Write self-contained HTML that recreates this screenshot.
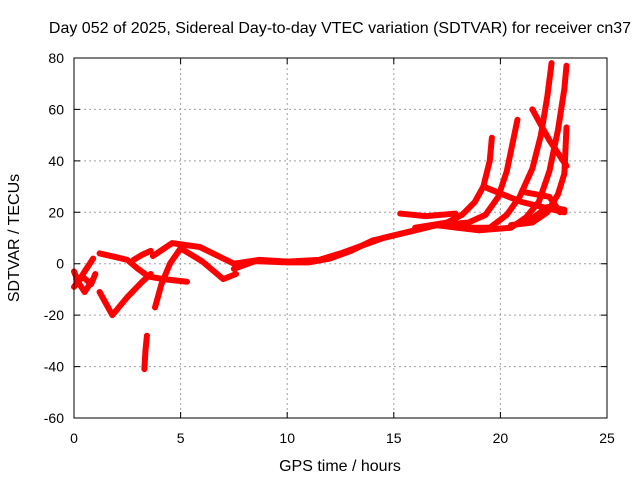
<!DOCTYPE html>
<html><head><meta charset="utf-8"><style>
body{margin:0;background:#fff}
svg{display:block;font-family:"Liberation Sans",sans-serif}
</style></head><body>
<svg id="chart" width="640" height="480" viewBox="0 0 640 480">
<rect width="640" height="480" fill="#fff"/>
<g id="grid"></g>
<g id="series"></g>
<rect x="74" y="58" width="533" height="360" fill="none" stroke="#000" stroke-width="1"/>
<g id="ticks"></g>
<text x="340" y="33" text-anchor="middle" font-size="16">Day 052 of 2025, Sidereal Day-to-day VTEC variation (SDTVAR) for receiver cn37</text>
<text x="340" y="471" text-anchor="middle" font-size="16">GPS time / hours</text>
<text transform="translate(19,238) rotate(-90)" text-anchor="middle" font-size="16">SDTVAR / TECUs</text>
</svg>
<script>
const xTicks=[0,5,10,15,20,25];
const yTicks=[-60,-40,-20,0,20,40,60,80];
// tracks: [hour, value] pairs
const track1=[[0,-3],[0.2,-7],[0.5,-3],[0.9,2]];
const track2=[[0,-9],[0.4,-5],[0.8,-8],[1.0,-4]];
const track3=[[0.1,-6],[0.5,-11],[0.9,-6]];
const track4=[[1.2,4],[2.0,2.5],[2.5,1.5],[3.0,-2],[3.5,-5],[4.2,-6],[5.3,-7]];
const track5=[[1.2,-11],[1.8,-20],[2.5,-13],[3.2,-7],[3.6,-4]];
const track6=[[2.8,1.5],[3.2,3.5],[3.6,5]];
const track7=[[3.8,-17],[4.1,-8],[4.5,0],[5.0,6],[6.0,1],[7.0,-6],[7.6,-4]];
const track8=[[3.7,3],[4.6,8],[5.9,6.5],[7.5,0],[8.7,1.5],[10,0.8],[11.5,1.5],[12.5,4],[13.5,7],[14.5,10],[15.5,12],[16.5,14],[17.5,16],[18.5,15]];
const track9=[[7.5,-2],[8.5,1],[10,0.5],[11,0.5],[12,2],[13,5],[14,9],[15,11],[16,13],[17,15],[18,14],[19,13],[19.6,14]];
const track10=[[3.42,-28],[3.35,-34],[3.3,-41]];
const trackA=[[16,14],[17.5,16],[18.2,19],[18.8,24],[19.2,30],[19.5,40],[19.6,49]];
const trackB=[[17,15],[18.5,16],[19.3,19],[19.9,26],[20.3,36],[20.6,48],[20.8,56]];
const trackC=[[18,14],[19.5,14],[20.3,19],[20.9,26],[21.5,37],[21.9,50],[22.2,65],[22.4,78]];
const trackD=[[19,13],[20.5,14],[21.2,18],[21.8,24],[22.3,36],[22.7,52],[23,68],[23.1,77]];
const trackE=[[20.5,15],[21.5,16],[22.2,20],[22.7,27],[23.0,35],[23.1,53]];
const trackF=[[21.5,60],[22.3,48],[23.1,38]];
const trackG=[[19.2,30],[21,24],[23,20]];
const trackH=[[15.3,19.5],[16.5,18.5],[17.9,19.5]];
const trackI=[[21,28],[22.3,26],[22.8,20]];
const trackJ=[[21.4,17],[22.2,22],[23,21]];
const tracks=[track1,track2,track3,track4,track5,track6,track7,track8,track9,track10,trackA,trackB,trackC,trackD,trackE,trackF,trackG,trackH,trackI,trackJ];
const NS='http://www.w3.org/2000/svg';
const X=h=>74+h*533/25;
const Y=v=>418-(v+60)*360/140;
const grid=document.getElementById('grid'),ticks=document.getElementById('ticks'),ser=document.getElementById('series');
xTicks.forEach(t=>{
 if(t>0&&t<25){const l=document.createElementNS(NS,'line');
 
 
 l.setAttribute('x1',X(t));l.setAttribute('x2',X(t));l.setAttribute('y1',58);l.setAttribute('y2',418);
 l.setAttribute('stroke','#a0a0a0');l.setAttribute('stroke-dasharray','2,3');grid.appendChild(l);}
 const tk=document.createElementNS(NS,'path');
 
 
 tk.setAttribute('d',`M${X(t)},418v-6M${X(t)},58v6`);tk.setAttribute('stroke','#000');ticks.appendChild(tk);
 const tx=document.createElementNS(NS,'text');
 
 
 tx.setAttribute('x',X(t));tx.setAttribute('y',443);tx.setAttribute('text-anchor','middle');tx.setAttribute('font-size','14');
 tx.textContent=t;ticks.appendChild(tx);
});
yTicks.forEach(t=>{
 if(t>-60&&t<80){const l=document.createElementNS(NS,'line');
 
 
 l.setAttribute('x1',74);l.setAttribute('x2',607);l.setAttribute('y1',Y(t));l.setAttribute('y2',Y(t));
 l.setAttribute('stroke','#a0a0a0');l.setAttribute('stroke-dasharray','2,3');grid.appendChild(l);}
 const tk=document.createElementNS(NS,'path');
 
 
 tk.setAttribute('d',`M74,${Y(t)}h6M607,${Y(t)}h-6`);tk.setAttribute('stroke','#000');ticks.appendChild(tk);
 const tx=document.createElementNS(NS,'text');
 
 
 tx.setAttribute('x',64);tx.setAttribute('y',Y(t)+5);tx.setAttribute('text-anchor','end');tx.setAttribute('font-size','14');
 tx.textContent=t;ticks.appendChild(tx);
});
tracks.forEach(tr=>{
 const p=document.createElementNS(NS,'polyline');
 
 
 p.setAttribute('points',tr.map(d=>X(d[0])+','+Y(d[1])).join(' '));
 p.setAttribute('fill','none');p.setAttribute('stroke','#f00');p.setAttribute('stroke-width','6');
 p.setAttribute('stroke-linejoin','round');p.setAttribute('stroke-linecap','round');
 ser.appendChild(p);
});
</script>
</body></html>
